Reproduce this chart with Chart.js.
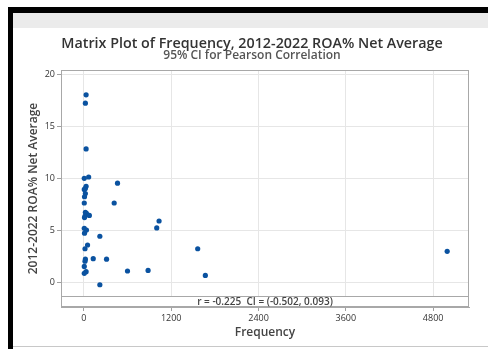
<!DOCTYPE html>
<html>
<head>
<meta charset="utf-8">
<script src="https://cdn.jsdelivr.net/npm/chart.js@4"></script>
<style>
  body { margin: 0; background: #fff; }
  #wrap { position: relative; width: 488px; height: 349px; overflow: hidden; }
  .edgeL { position: absolute; left: 8px; top: 7px; width: 5px; height: 342px; background: #000; }
  .edgeT { position: absolute; left: 8px; top: 7px; width: 480px; height: 6px; background: #000; }
  .band  { position: absolute; left: 13px; top: 13px; width: 475px; height: 15px; background: #ebebeb; }
  .edgeB { position: absolute; left: 13px; top: 346px; width: 475px; height: 1px; background: #c8c8c8; }
  canvas { position: absolute; left: 0; top: 0; }
</style>
</head>
<body>
<div id="wrap">
  <div class="edgeL"></div>
  <div class="edgeT"></div>
  <div class="band"></div>
  <div class="edgeB"></div>
  <canvas id="canvas_scatter" width="488" height="349"></canvas>
</div>
<script>
// values
var frequency = [30, 20, 30, 5, 65, 462, 30, 20, 5, 20, 8, 416, 5, 20, 35, 15, 75, 8,
  1033, 1001, 5, 35, 8, 219, 50, 15, 20, 128, 311, 15, 5, 30, 5, 599, 882, 219, 1564, 1669, 4993];
var roaNetAverage = [18.0, 17.2, 12.8, 9.97, 10.1, 9.5, 9.2, 9.0, 8.9, 8.5, 8.2, 7.6, 7.6, 6.7, 6.6, 6.35, 6.4, 6.2,
  5.87, 5.2, 5.16, 5.0, 4.7, 4.4, 3.56, 3.2, 2.2, 2.25, 2.2, 2.0, 1.5, 1.0, 0.84, 1.06, 1.12, -0.26, 3.2, 0.64, 2.95];
var xTicks = [0, 1200, 2400, 3600, 4800];
var yTicks = [0, 5, 10, 15, 20];
var titulo = 'Matrix Plot of Frequency, 2012-2022 ROA% Net Average';
var subtitulo = '95% CI for Pearson Correlation';
var corrText = 'r = -0.225  CI = (-0.502, 0.093)';
var bandTop = -1.35; // top of the correlation strip, in y units

var puntos = frequency.map(function(f, i){
  return { x: f, y: roaNetAverage[i] };
});

// titles (drawn by hand so they sit off-centre like the original)
var titulos = {
  id: 'titulos',
  afterDraw: function(chart){
    var ctx = chart.ctx;
    var cx = chart.width / 2 + 8;
    ctx.save();
    ctx.textAlign = 'center';
    ctx.textBaseline = 'middle';
    ctx.fillStyle = '#333';
    ctx.font = '600 14.3px "Open Sans"';
    ctx.fillText(titulo, cx, 44);
    ctx.fillStyle = '#555';
    ctx.font = '600 12px "Open Sans"';
    ctx.fillText(subtitulo, cx, 56);
    ctx.restore();
  }
};

// frame round the plot + the r / CI strip at the bottom
var marco = {
  id: 'marco',
  afterDatasetsDraw: function(chart){
    var ctx = chart.ctx;
    var a = chart.chartArea;
    var yb = chart.scales.y.getPixelForValue(bandTop);
    ctx.save();
    ctx.fillStyle = '#fff';
    ctx.fillRect(a.left, yb, a.right - a.left, a.bottom - yb);
    ctx.strokeStyle = '#a8a8a8';
    ctx.lineWidth = 1;
    ctx.beginPath();
    ctx.moveTo(a.left, Math.round(yb) + 0.5);
    ctx.lineTo(a.right, Math.round(yb) + 0.5);
    ctx.stroke();
    ctx.strokeRect(a.left + 0.5, a.top + 0.5, a.right - a.left - 1, a.bottom - a.top - 1);
    ctx.fillStyle = '#444';
    ctx.font = '600 10px "Open Sans"';
    ctx.textAlign = 'center';
    ctx.textBaseline = 'middle';
    ctx.fillText(corrText, (a.left + a.right) / 2, (yb + a.bottom) / 2 + 0.5);
    ctx.restore();
  }
};

function sinComas(value){
  return String(value);
}

var ctx = document.getElementById('canvas_scatter').getContext('2d');
window.myScatter = new Chart(ctx, {
  type: 'scatter',
  data: {
    datasets: [{
      label: 'ROA',
      data: puntos,
      backgroundColor: '#0a52a0',
      borderWidth: 0,
      pointRadius: 2.6,
      pointHoverRadius: 2.6
    }]
  },
  options: {
    responsive: false,
    animation: false,
    events: [],
    layout: { padding: { top: 70, left: 14, right: 19, bottom: 0 } },
    plugins: {
      legend: { display: false },
      tooltip: { enabled: false },
      title: { display: false }
    },
    scales: {
      x: {
        type: 'linear',
        min: -315,
        max: 5293,
        afterBuildTicks: function(axis){
          axis.ticks = xTicks.map(function(v){ return { value: v }; });
        },
        afterFit: function(axis){ axis.height = 42; },
        grid: { color: '#e6e6e6', tickColor: '#a0a0a0', tickLength: 4 },
        border: { color: '#a8a8a8' },
        ticks: {
          color: '#333',
          font: { family: 'Open Sans', size: 9 },
          padding: 2,
          maxRotation: 0,
          autoSkip: false,
          callback: sinComas
        },
        title: {
          display: true,
          text: 'Frequency',
          color: '#444',
          font: { family: 'Open Sans', size: 12, weight: '600', lineHeight: 1.2 },
          padding: { top: 0, bottom: 9 }
        }
      },
      y: {
        type: 'linear',
        min: -2.4,
        max: 20.385,
        afterBuildTicks: function(axis){
          axis.ticks = yTicks.map(function(v){ return { value: v }; });
        },
        afterFit: function(axis){ axis.width = 47; },
        grid: { color: '#e6e6e6', tickColor: '#a0a0a0', tickLength: 4 },
        border: { color: '#a8a8a8' },
        ticks: {
          color: '#333',
          font: { family: 'Open Sans', size: 9 },
          padding: 2,
          callback: sinComas
        },
        title: {
          display: true,
          text: '2012-2022 ROA% Net Average',
          color: '#444',
          font: { family: 'Open Sans', size: 12, weight: '600', lineHeight: 1.2 },
          padding: { top: 12, bottom: 0 }
        }
      }
    }
  },
  plugins: [marco, titulos]
});
</script>
</body>
</html>
